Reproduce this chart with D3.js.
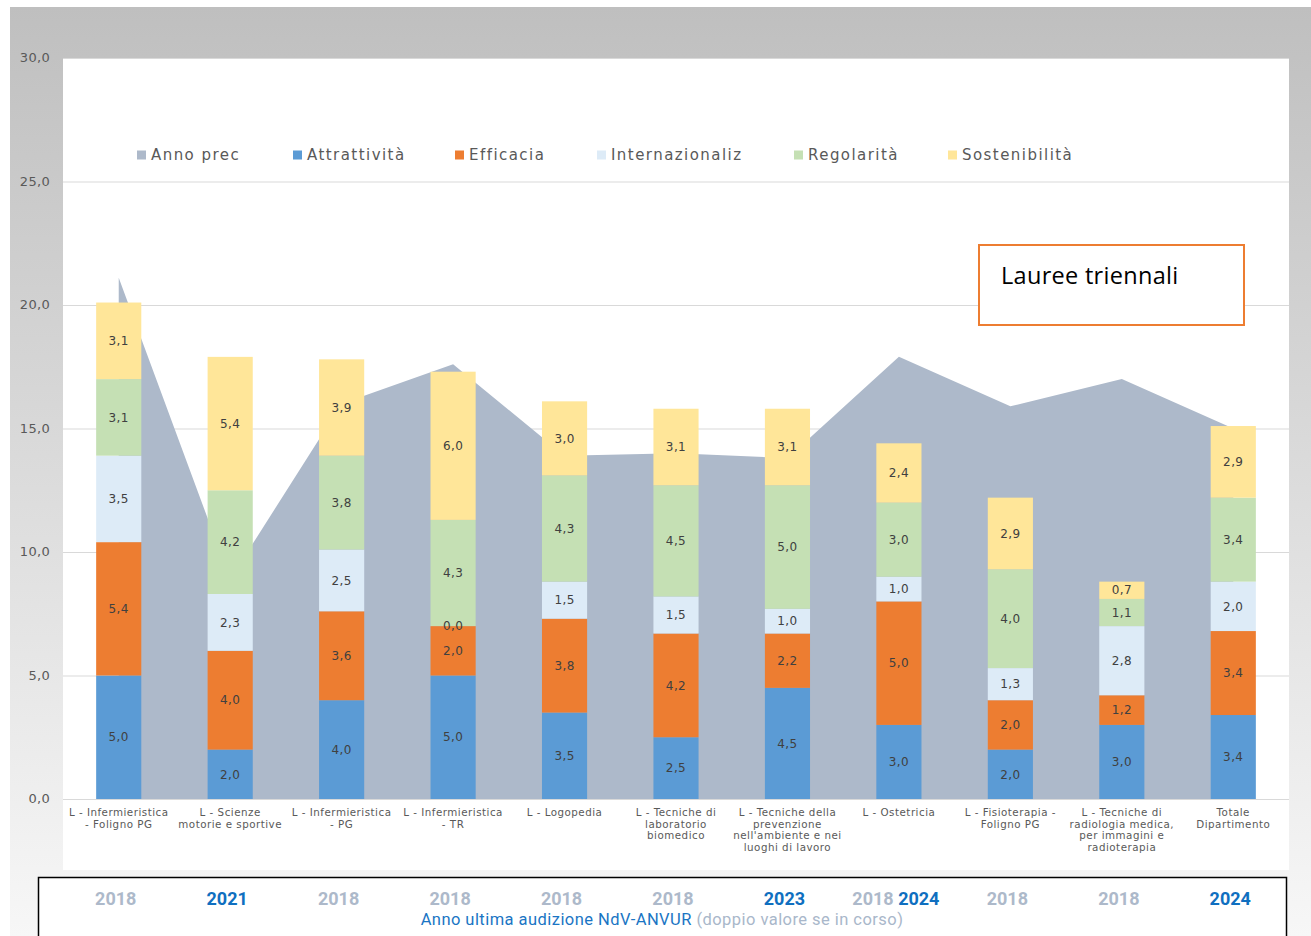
<!DOCTYPE html>
<html>
<head>
<meta charset="utf-8">
<script src="https://cdn.jsdelivr.net/npm/d3@7"></script>
<style>
  body { margin: 0; background: #fff; }
  svg { display: block; }
</style>
</head>
<body>
<div id="chart-area"></div>
<script>
// data
var categories = [
  ["L - Infermieristica", "- Foligno PG"],
  ["L - Scienze", "motorie e sportive"],
  ["L - Infermieristica", "- PG"],
  ["L - Infermieristica", "- TR"],
  ["L - Logopedia"],
  ["L - Tecniche di", "laboratorio", "biomedico"],
  ["L - Tecniche della", "prevenzione", "nell'ambiente e nei", "luoghi di lavoro"],
  ["L - Ostetricia"],
  ["L - Fisioterapia -", "Foligno PG"],
  ["L - Tecniche di", "radiologia medica,", "per immagini e", "radioterapia"],
  ["Totale", "Dipartimento"]
];
var annoPrec       = [21.1, 8.9, 16.0, 17.6, 13.9, 14.0, 13.8, 17.9, 15.9, 17.0, 15.0];
var attrattivita   = [5.0, 2.0, 4.0, 5.0, 3.5, 2.5, 4.5, 3.0, 2.0, 3.0, 3.4];
var efficacia      = [5.4, 4.0, 3.6, 2.0, 3.8, 4.2, 2.2, 5.0, 2.0, 1.2, 3.4];
var internazionaliz= [3.5, 2.3, 2.5, 0.0, 1.5, 1.5, 1.0, 1.0, 1.3, 2.8, 2.0];
var regolarita     = [3.1, 4.2, 3.8, 4.3, 4.3, 4.5, 5.0, 3.0, 4.0, 1.1, 3.4];
var sostenibilita  = [3.1, 5.4, 3.9, 6.0, 3.0, 3.1, 3.1, 2.4, 2.9, 0.7, 2.9];
var yTicks = [0, 5, 10, 15, 20, 25, 30];
// audit years under each column (bold blue = recent)
var auditYears = [
  [["2018", 0]], [["2021", 1]], [["2018", 0]], [["2018", 0]], [["2018", 0]], [["2018", 0]],
  [["2023", 1]], [["2018", 0], ["2024", 1]], [["2018", 0]], [["2018", 0]], [["2024", 1]]
];

var seriesNames = ["Attrattività", "Efficacia", "Internazionaliz", "Regolarità", "Sostenibilità"];
var seriesValues = [attrattivita, efficacia, internazionaliz, regolarita, sostenibilita];
var colors = {
  "Anno prec": "#adb9ca",
  "Attrattività": "#5b9bd5",
  "Efficacia": "#ed7d31",
  "Internazionaliz": "#ddebf7",
  "Regolarità": "#c5e0b4",
  "Sostenibilità": "#ffe699"
};

var W = 1311, H = 936;
var plot = {left: 63, right: 1289, top: 58, bottom: 799};

var svg = d3.select("#chart-area").append("svg")
  .attr("width", W).attr("height", H);

// gray frame with vertical fade
var grad = svg.append("defs").append("linearGradient")
  .attr("id", "frameGrad").attr("x1", 0).attr("y1", 0).attr("x2", 0).attr("y2", 1);
grad.append("stop").attr("offset", "0%").attr("stop-color", "#bfbfbf");
grad.append("stop").attr("offset", "100%").attr("stop-color", "#f7f7f7");
svg.append("rect").attr("x", 10).attr("y", 7).attr("width", W - 10).attr("height", H - 7)
  .attr("fill", "url(#frameGrad)");
svg.append("rect").attr("x", plot.left).attr("y", plot.top)
  .attr("width", plot.right - plot.left).attr("height", 870 - plot.top)
  .attr("fill", "#fff");

var idx = d3.range(categories.length);
var x = d3.scaleBand().domain(idx).range([plot.left, plot.right]).padding(0);
var y = d3.scaleLinear().domain([0, 30]).range([plot.bottom, plot.top]);
var barW = x.bandwidth() * 0.405;
var cx = function(i) { return x(i) + x.bandwidth() / 2; };
var fmt = function(v) { return d3.format(".1f")(v).replace(".", ","); };

// gridlines
svg.append("g").selectAll("line").data(yTicks).enter().append("line")
  .attr("x1", plot.left).attr("x2", plot.right)
  .attr("y1", function(d) { return y(d) + 0.5; }).attr("y2", function(d) { return y(d) + 0.5; })
  .attr("stroke", "#d9d9d9").attr("stroke-width", 1);

// y axis labels
var yAxis = svg.append("g").attr("transform", "translate(50,0)")
  .call(d3.axisLeft(y).tickValues(yTicks).tickSize(0).tickPadding(0).tickFormat(fmt));
yAxis.select(".domain").remove();
yAxis.selectAll("text")
  .attr("font-family", "DejaVu Sans").attr("font-size", 13).attr("fill", "#595959")
  .attr("letter-spacing", 0.3).attr("dy", "0.3em");

// area Anno prec
svg.append("path").datum(annoPrec)
  .attr("fill", colors["Anno prec"])
  .attr("d", d3.area()
    .x(function(d, i) { return cx(i); })
    .y0(y(0))
    .y1(function(d) { return y(d); }));

// stacked bars
var rows = idx.map(function(i) {
  var r = {i: i};
  seriesNames.forEach(function(s, k) { r[s] = seriesValues[k][i]; });
  return r;
});
var stack = d3.stack().keys(seriesNames)(rows);

var layers = svg.append("g").selectAll("g").data(stack).enter().append("g")
  .attr("fill", function(d) { return colors[d.key]; });
layers.selectAll("rect").data(function(d) { return d; }).enter().append("rect")
  .attr("x", function(d) { return cx(d.data.i) - barW / 2; })
  .attr("width", barW)
  .attr("y", function(d) { return y(d[1]); })
  .attr("height", function(d) { return y(d[0]) - y(d[1]); });

// bar labels
var labels = svg.append("g").attr("font-family", "DejaVu Sans").attr("font-size", 12)
  .attr("fill", "#404040").attr("text-anchor", "middle").attr("letter-spacing", 0.4);
stack.forEach(function(layer) {
  labels.selectAll(null).data(layer).enter().append("text")
    .attr("x", function(d) { return cx(d.data.i); })
    .attr("y", function(d) { return (y(d[0]) + y(d[1])) / 2; })
    .attr("dy", "0.35em")
    .text(function(d) { return fmt(d[1] - d[0]); });
});

// x axis line
svg.append("line").attr("x1", plot.left).attr("x2", plot.right)
  .attr("y1", plot.bottom + 0.5).attr("y2", plot.bottom + 0.5)
  .attr("stroke", "#d9d9d9");

// category labels
var catText = svg.append("g").attr("font-family", "DejaVu Sans").attr("font-size", 10.3)
  .attr("fill", "#595959").attr("text-anchor", "middle").attr("letter-spacing", 0.5)
  .selectAll("text").data(categories).enter().append("text")
  .attr("x", function(d, i) { return cx(i); })
  .attr("y", 816);
catText.selectAll("tspan").data(function(d, i) { return d.map(function(t) { return {t: t, i: i}; }); })
  .enter().append("tspan")
  .attr("x", function(d) { return cx(d.i); })
  .attr("dy", function(d, k) { return k === 0 ? 0 : 11.5; })
  .text(function(d) { return d.t; });

// legend
var legendItems = ["Anno prec"].concat(seriesNames);
var legendX = [137, 293, 455, 597, 794, 948];
var legend = svg.append("g").selectAll("g").data(legendItems).enter().append("g")
  .attr("transform", function(d, i) { return "translate(" + legendX[i] + ",155)"; });
legend.append("rect").attr("x", 0).attr("y", -4.5).attr("width", 9).attr("height", 9)
  .attr("fill", function(d) { return colors[d]; });
legend.append("text").attr("x", 14).attr("dy", "0.36em")
  .attr("font-family", "DejaVu Sans").attr("font-size", 15).attr("letter-spacing", 1.45)
  .attr("fill", "#595959").text(function(d) { return d; });

// Lauree triennali box
svg.append("rect").attr("x", 979).attr("y", 245).attr("width", 265).attr("height", 80)
  .attr("fill", "#fff").attr("stroke", "#ed7d31").attr("stroke-width", 2);
svg.append("text").attr("x", 1001).attr("y", 284)
  .attr("font-family", "Open Sans").attr("font-size", 23.5).attr("letter-spacing", 0.3)
  .attr("fill", "#000")
  .text("Lauree triennali");

// audit year box
svg.append("rect").attr("x", 38.5).attr("y", 877.5).attr("width", 1248).attr("height", 80)
  .attr("fill", "#fff").attr("stroke", "#000").attr("stroke-width", 1.5);
var yearText = svg.append("g").attr("font-family", "Roboto").attr("font-weight", 700)
  .attr("font-size", 18).attr("text-anchor", "middle")
  .selectAll("text").data(auditYears).enter().append("text")
  .attr("x", function(d, i) { return cx(i) - 3; })
  .attr("y", 905);
yearText.selectAll("tspan").data(function(d) { return d; }).enter().append("tspan")
  .attr("fill", function(d) { return d[1] ? "#0f6fc0" : "#adb9ca"; })
  .text(function(d, k) { return (k > 0 ? " " : "") + d[0]; });

var caption = svg.append("text").attr("x", 662).attr("y", 925)
  .attr("font-family", "Roboto").attr("font-size", 16.5).attr("letter-spacing", 0.45)
  .attr("text-anchor", "middle");
caption.append("tspan").attr("fill", "#1a75c4").text("Anno ultima audizione NdV-ANVUR ");
caption.append("tspan").attr("fill", "#a9b7ca").text("(doppio valore se in corso)");
</script>
</body>
</html>
